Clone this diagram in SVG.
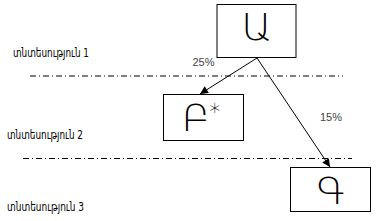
<svg xmlns="http://www.w3.org/2000/svg" width="376" height="221" viewBox="0 0 376 221">
<style>
.box{fill:#fff;stroke:#000;stroke-width:1}
.sep{stroke:#000;stroke-width:1;stroke-dasharray:6,3,1,3;fill:none}
.edge{stroke:#000;stroke-width:1;fill:none;marker-end:url(#ah)}
.lvl{font-family:"DejaVu Sans Condensed","DejaVu Sans",sans-serif;font-size:12px;fill:#000}
.pct{font-family:"Liberation Sans",Arial,sans-serif;font-size:11px;fill:#444}
.big{font-family:"DejaVu Sans",sans-serif;font-weight:200;font-size:38px;fill:#000;text-anchor:middle}
</style>
<defs>
<marker id="ah" viewBox="0 0 10 10" refX="10" refY="5" markerWidth="10" markerHeight="8" markerUnits="userSpaceOnUse" orient="auto">
<path d="M0,0 L10,5 L0,10 z" fill="#000"/>
</marker>
</defs>
<g id="separators">
<line class="sep" x1="30" y1="76" x2="343" y2="76"/>
<line class="sep" x1="23" y1="158.5" x2="352" y2="158.5"/>
</g>
<g id="levels">
<text class="lvl" x="13" y="57" textLength="76" lengthAdjust="spacingAndGlyphs">տնտեսություն 1</text>
<text class="lvl" x="7" y="139" textLength="76" lengthAdjust="spacingAndGlyphs">տնտեսություն 2</text>
<text class="lvl" x="7" y="211" textLength="77" lengthAdjust="spacingAndGlyphs">տնտեսություն 3</text>
</g>
<g id="connectors">
<line class="edge" x1="257" y1="58" x2="200" y2="94"/>
<line class="edge" x1="257" y1="58" x2="330" y2="167"/>
<text class="pct" x="192.5" y="66">25%</text>
<text class="pct" x="320" y="121">15%</text>
</g>
<g id="node-A">
<rect class="box" x="217" y="4.5" width="79" height="53"/>
<text class="big" x="256.5" y="40">Ա</text>
</g>
<g id="node-B">
<rect class="box" x="163.5" y="94.5" width="80" height="46"/>
<text class="big" x="201" y="131">Բ<tspan font-size="22" dx="-1" dy="-12">*</tspan></text>
</g>
<g id="node-G">
<rect class="box" x="290.5" y="167.5" width="80" height="44"/>
<text class="big" x="331" y="204">Գ</text>
</g>
</svg>
